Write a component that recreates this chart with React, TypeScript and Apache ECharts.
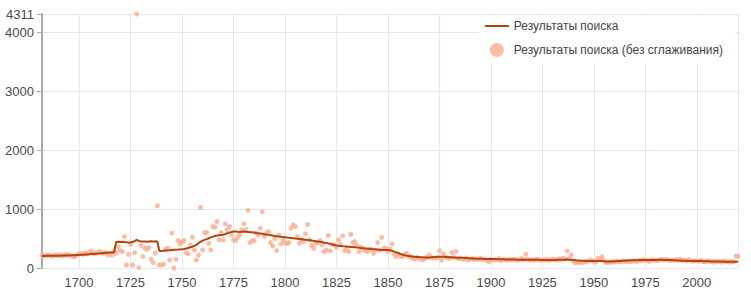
import React, { useEffect, useRef } from "react";
import * as echarts from "echarts";

const startYear = 1682;

const rawValues = [
  210, 215, 205, 220, 210, 200, 215, 220,
  210, 225, 205, 215, 230, 220, 210, 195, 195, 220,
  240, 245, 230, 255, 240, 265, 290, 250, 245, 260,
  280, 260, 250, 265, 221, 250, 221, 280, 250, 363,
  300, 278, 533, 51, 233, 400, 51, 260, 4311, 5,
  380, 193, 335, 318, 346, 148, 90, 250, 1056, 51,
  51, 63, 318, 335, 136, 591, 0, 148, 465, 409,
  449, 465, 261, 239, 392, 523, 307, 136, 221, 1027,
  307, 601, 601, 420, 307, 704, 693, 789, 480, 600,
  477, 750, 650, 704, 562, 477, 465, 520, 562, 647,
  750, 659, 977, 431, 465, 465, 591, 560, 676, 954,
  533, 591, 620, 431, 375, 500, 295, 560, 409, 480,
  420, 420, 431, 676, 733, 704, 533, 420, 480, 450,
  579, 738, 477, 380, 335, 420, 430, 465, 392, 278,
  307, 551, 290, 400, 392, 350, 477, 400, 545, 295,
  320, 278, 568, 431, 449, 380, 278, 352, 330, 300,
  278, 307, 320, 250, 300, 431, 300, 520, 335, 335,
  280, 318, 409, 240, 193, 239, 200, 193, 220, 250,
  200, 193, 170, 148, 180, 165, 150, 136, 170, 180,
  221, 180, 165, 170, 175, 295, 136, 239, 190, 170,
  165, 261, 180, 278, 160, 165, 150, 148, 170, 136,
  150, 160, 140, 155, 145, 165, 140, 150, 130, 108,
  150, 130, 140, 135, 160, 125, 145, 140, 130, 145,
  135, 150, 140, 130, 145, 160, 140, 233, 150, 130,
  140, 135, 145, 150, 130, 140, 135, 150, 125, 140,
  150, 145, 130, 155, 140, 165, 150, 290, 160, 221,
  120, 90, 95, 100, 90, 95, 110, 115, 130, 125,
  115, 100, 165, 160, 193, 120, 90, 100, 95, 110,
  100, 115, 110, 105, 120, 110, 115, 105, 110, 120,
  125, 115, 130, 120, 140, 130, 125, 115, 140, 130,
  135, 125, 140, 150, 130, 145, 140, 125, 135, 130,
  140, 130, 150, 125, 135, 120, 140, 130, 115, 125,
  120, 115, 130, 110, 105, 120, 115, 110, 100, 115,
  105, 110, 100, 120, 110, 105, 100, 110, 105, 204,
  200,
];

const smoothValues = [
  205, 205, 206, 206, 207, 207, 208, 208,
  209, 210, 211, 212, 213, 214, 215, 216, 218, 220,
  222, 224, 226, 228, 230, 233, 236, 239, 242, 245,
  248, 251, 254, 257, 260, 262, 265, 268, 440, 445,
  440, 445, 440, 435, 432, 431, 445, 455, 477, 460,
  450, 448, 452, 445, 450, 455, 448, 452, 450, 290,
  290, 292, 295, 298, 300, 305, 308, 310, 312, 315,
  318, 322, 330, 340, 350, 360, 375, 392, 420, 445,
  465, 477, 490, 505, 520, 533, 545, 550, 555, 560,
  565, 575, 590, 600, 610, 618, 620, 615, 612, 615,
  618, 615, 612, 608, 605, 601, 595, 590, 585, 580,
  574, 568, 562, 556, 550, 545, 540, 535, 530, 527,
  523, 518, 514, 510, 506, 500, 496, 492, 488, 484,
  480, 475, 470, 465, 460, 455, 450, 445, 440, 430,
  425, 418, 410, 400, 390, 380, 378, 375, 370, 367,
  365, 362, 358, 355, 352, 348, 345, 340, 337, 333,
  330, 327, 323, 320, 317, 313, 310, 307, 305, 306,
  307, 300, 290, 278, 265, 255, 240, 228, 218, 210,
  203, 198, 194, 190, 187, 185, 183, 181, 180, 180,
  180, 182, 185, 188, 190, 193, 192, 190, 188, 186,
  184, 182, 180, 178, 176, 174, 172, 170, 168, 166,
  164, 162, 160, 158, 157, 156, 155, 154, 153, 153,
  153, 152, 151, 150, 149, 148, 147, 146, 145, 145,
  144, 143, 143, 142, 142, 141, 141, 140, 140, 140,
  139, 139, 138, 138, 137, 137, 137, 136, 136, 136,
  136, 137, 138, 139, 140, 141, 142, 143, 142, 140,
  137, 133, 129, 126, 123, 121, 119, 118, 117, 118,
  119, 118, 117, 118, 118, 115, 112, 110, 110, 112,
  114, 116, 118, 120, 122, 124, 126, 128, 130, 131,
  132, 133, 134, 135, 136, 137, 137, 137, 136, 136,
  136, 137, 138, 138, 137, 136, 135, 134, 133, 131,
  130, 128, 126, 124, 122, 121, 120, 120, 119, 119,
  119, 118, 117, 116, 115, 114, 113, 112, 111, 110,
  110, 109, 109, 108, 108, 108, 108, 108, 108, 108,
  108,
];

const xTickLabels = [1700, 1725, 1750, 1775, 1800, 1825, 1850, 1875, 1900, 1925, 1950, 1975, 2000];
const xMin = 1682;
const xMax = 2020;
const yMax = 4311;

const seriesNames = ["Результаты поиска", "Результаты поиска (без сглаживания)"];

export default function App() {
  const ref = useRef<HTMLDivElement>(null);
  useEffect(() => {
    document.body.style.margin = "0";
    if (!ref.current) return;
    const chart = echarts.init(ref.current, null, { renderer: "svg" });
    const rawData = rawValues.map((v, i) => [startYear + i, v]);
    const smoothData = smoothValues.map((v, i) => [startYear + i, v]);
    const font = "'Liberation Sans', Arial, Helvetica, sans-serif";
    chart.setOption({
      animation: false,
      textStyle: { fontFamily: font },
      grid: { left: 42, right: 13, top: 14, bottom: 34 },
      legend: {
        orient: "vertical",
        right: 16,
        top: 16,
        backgroundColor: "#ffffff",
        padding: [4, 12, 6, 6],
        itemGap: 11,
        itemWidth: 24,
        itemHeight: 14,
        textStyle: { fontSize: 12, color: "#444", fontFamily: font },
        data: [
          { name: seriesNames[0], icon: "path://M0,0 L24,0 L24,2 L0,2 Z" },
          { name: seriesNames[1], icon: "circle" },
        ],
      },
      xAxis: {
        type: "value",
        min: xMin,
        max: xMax,
        axisLine: { show: false },
        axisTick: { show: false, customValues: [...xTickLabels, xMax] },
        axisLabel: {
          customValues: xTickLabels,
          fontSize: 13,
          color: "#4a4a4a",
          margin: 8,
          fontFamily: font,
          formatter: (v: number) => String(v),
        },
        splitLine: { show: true, lineStyle: { color: "#e4e7f3", width: 1 } },
      },
      yAxis: {
        type: "value",
        min: 0,
        max: yMax,
        interval: 1000,
        axisLine: { show: true, lineStyle: { color: "#aaaaaa", width: 2 } },
        axisTick: { show: true, length: 5, lineStyle: { color: "#aaaaaa" } },
        axisLabel: {
          fontSize: 13,
          color: "#4a4a4a",
          margin: 8,
          fontFamily: font,
          formatter: (v: number) => String(v),
        },
        splitLine: { show: true, lineStyle: { color: "#e4e7f3", width: 1 } },
      },
      series: [
        {
          name: seriesNames[0],
          type: "line",
          data: smoothData,
          symbol: "none",
          z: 3,
          lineStyle: { color: "#b3440b", width: 2 },
          itemStyle: { color: "#b3440b" },
        },
        {
          name: seriesNames[1],
          type: "scatter",
          data: rawData,
          symbolSize: 5,
          z: 2,
          itemStyle: { color: "#fdb096", opacity: 0.85 },
        },
      ],
    });
    return () => chart.dispose();
  }, []);
  return <div ref={ref} style={{ width: 751, height: 302 }} />;
}
